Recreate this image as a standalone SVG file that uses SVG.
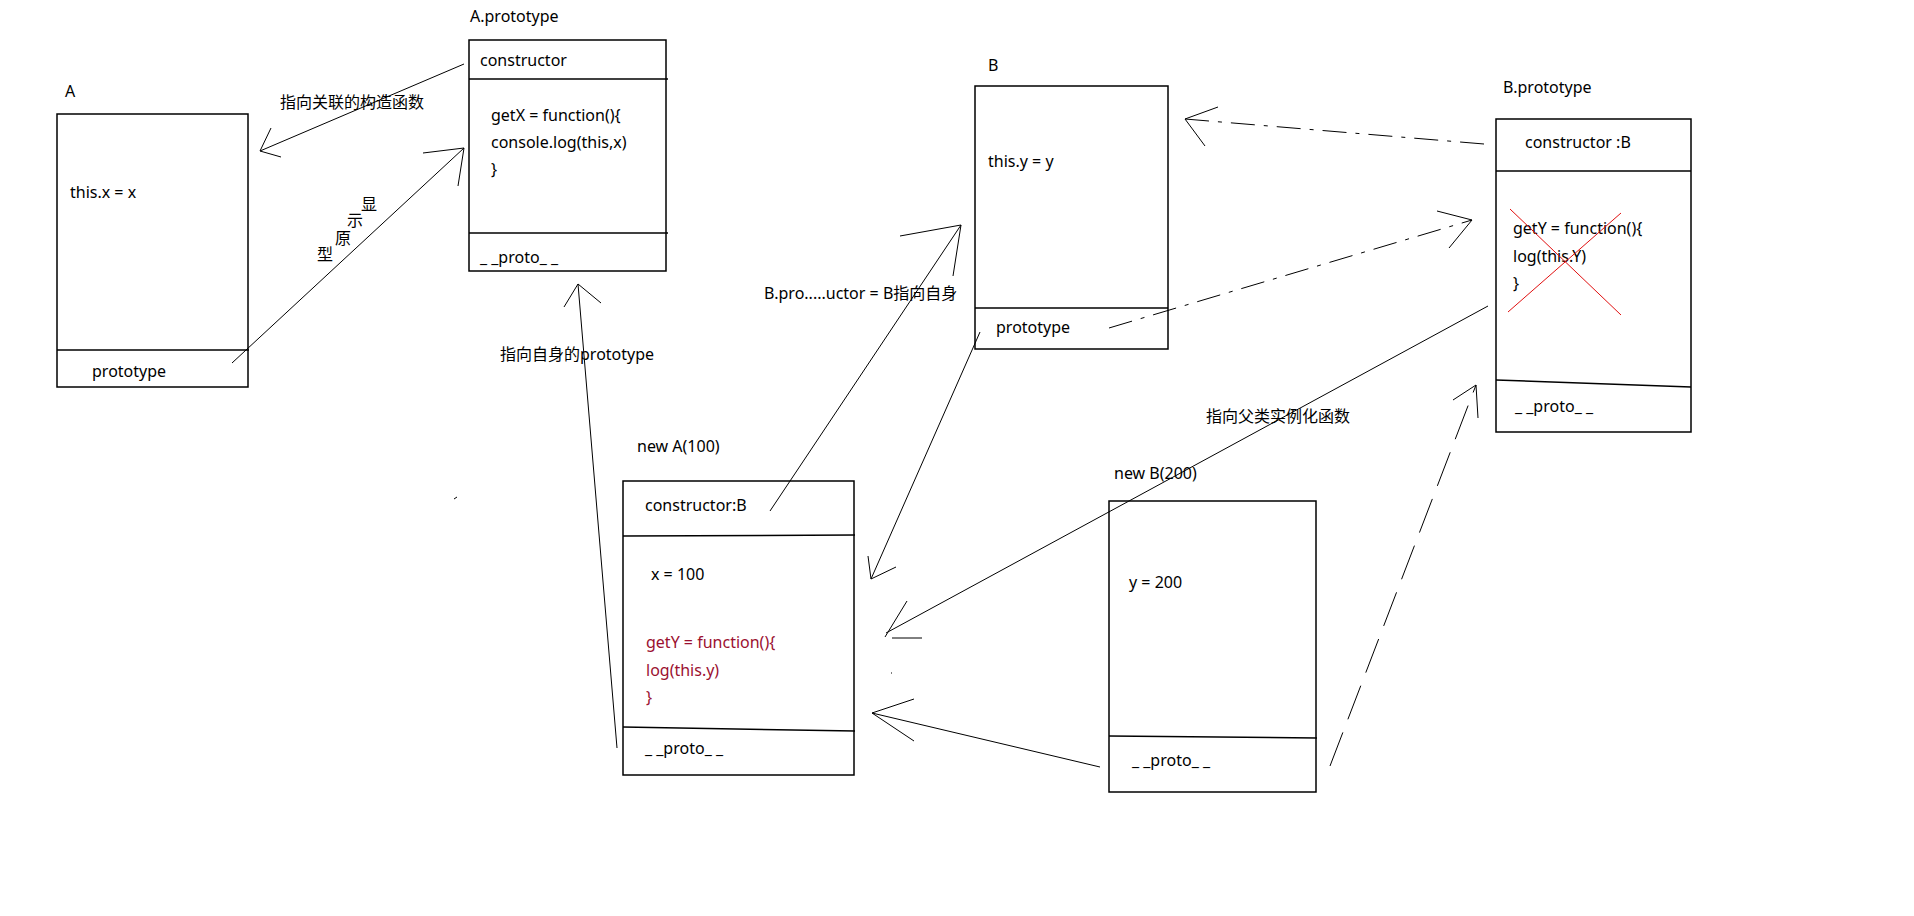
<svg xmlns="http://www.w3.org/2000/svg" width="1914" height="916" viewBox="0 0 1914 916">
<style>
.box{fill:none;stroke:#000;stroke-width:1.5}
.ln{fill:none;stroke:#000;stroke-width:1}
.dd{stroke-dasharray:24 9 4 9}
.dl{stroke-dasharray:36 14}
.x{fill:none;stroke:#e01010;stroke-width:1}
text{font-family:"Noto Sans","Noto Sans CJK SC",sans-serif;font-size:16px;fill:#000}
.cjk{font-family:"Noto Sans CJK SC",sans-serif}
.red{fill:#9b1030}
</style>
<rect width="1914" height="916" fill="#fff"/>

<g id="node-A">
<rect class="box" x="57" y="114" width="191" height="273"/>
<line class="box" x1="57" y1="350" x2="249" y2="350"/>
<text x="65" y="97">A</text>
<text x="70" y="198">this.x = x</text>
<text x="92" y="377">prototype</text>
</g>

<g id="node-A-prototype">
<rect class="box" x="469" y="40" width="197" height="231"/>
<line class="box" x1="469" y1="79" x2="668" y2="79"/>
<line class="box" x1="469" y1="233" x2="668" y2="233"/>
<text x="470" y="22">A.prototype</text>
<text x="480" y="66">constructor</text>
<text x="491" y="121">getX = function(){</text>
<text x="491" y="148">console.log(this,x)</text>
<text x="491" y="175">}</text>
<text x="480" y="263">_ _proto_ _</text>
</g>

<g id="node-B">
<rect class="box" x="975" y="86" width="193" height="263"/>
<line class="box" x1="975" y1="308" x2="1168" y2="308"/>
<text x="988" y="71">B</text>
<text x="988" y="167">this.y = y</text>
<text x="996" y="333">prototype</text>
</g>

<g id="node-B-prototype">
<rect class="box" x="1496" y="119" width="195" height="313"/>
<line class="box" x1="1496" y1="171" x2="1691" y2="171"/>
<line class="box" x1="1496" y1="380" x2="1691" y2="387"/>
<text x="1503" y="93">B.prototype</text>
<text x="1525" y="148">constructor :B</text>
<text x="1513" y="234">getY = function(){</text>
<text x="1513" y="262">log(this.Y)</text>
<text x="1513" y="289">}</text>
<text x="1515" y="412">_ _proto_ _</text>
<line class="x" x1="1510" y1="209" x2="1621" y2="315"/>
<line class="x" x1="1621" y1="213" x2="1508" y2="312"/>
</g>

<g id="node-newA">
<rect class="box" x="623" y="481" width="231" height="294"/>
<line class="box" x1="623" y1="536" x2="855" y2="535"/>
<line class="box" x1="623" y1="727" x2="855" y2="731"/>
<text x="637" y="452">new A(100)</text>
<text x="645" y="511">constructor:B</text>
<text x="651" y="580">x = 100</text>
<text class="red" x="646" y="648">getY = function(){</text>
<text class="red" x="646" y="676">log(this.y)</text>
<text class="red" x="646" y="703">}</text>
<text x="645" y="754">_ _proto_ _</text>
</g>

<g id="node-newB">
<rect class="box" x="1109" y="501" width="207" height="291"/>
<line class="box" x1="1109" y1="736" x2="1317" y2="738"/>
<text x="1114" y="479">new B(200)</text>
<text x="1129" y="588">y = 200</text>
<text x="1132" y="766">_ _proto_ _</text>
</g>

<g id="connectors">
<path class="ln" d="M464,64 L260,151 M271,128 L260,151 L281,157"/>
<path class="ln" d="M232,363 L464,148 M423,153 L464,148 L458,186"/>
<path class="ln" d="M617,748 L578,284 M564,307 L578,284 L601,303"/>
<path class="ln" d="M770,511 L961,225 M900,236 L961,225 L953,276"/>
<path class="ln" d="M980,332 L871,579 M868,556 L871,579 L896,567"/>
<path class="ln" d="M1488,306 L886,633 M907,601 L885,637 M892,638 L922,638"/>
<path class="ln" d="M1100,767 L872,713 M914,699 L872,713 L914,741"/>
<path class="ln dl" d="M1330,766 L1476,385"/>
<path class="ln" d="M1453,400 L1476,385 L1478,418"/>
<path class="ln dd" d="M1484,144 L1185,119"/>
<path class="ln" d="M1218,107 L1185,119 L1205,146"/>
<path class="ln dd" d="M1109,328 L1472,220"/>
<path class="ln" d="M1437,211 L1472,220 L1449,248"/>
<line class="ln" x1="454" y1="499" x2="457" y2="497"/>
<line class="ln" x1="891" y1="673" x2="892" y2="673"/>
</g>

<g id="labels">
<text class="cjk" x="280" y="108">指向关联的构造函数</text>
<text class="cjk" x="369" y="210" text-anchor="middle">显</text>
<text class="cjk" x="355" y="226" text-anchor="middle">示</text>
<text class="cjk" x="343" y="244" text-anchor="middle">原</text>
<text class="cjk" x="325" y="260" text-anchor="middle">型</text>
<text x="500" y="360">指向自身的prototype</text>
<text x="764" y="299">B.pro.....uctor = B指向自身</text>
<text class="cjk" x="1206" y="422">指向父类实例化函数</text>
</g>
</svg>
